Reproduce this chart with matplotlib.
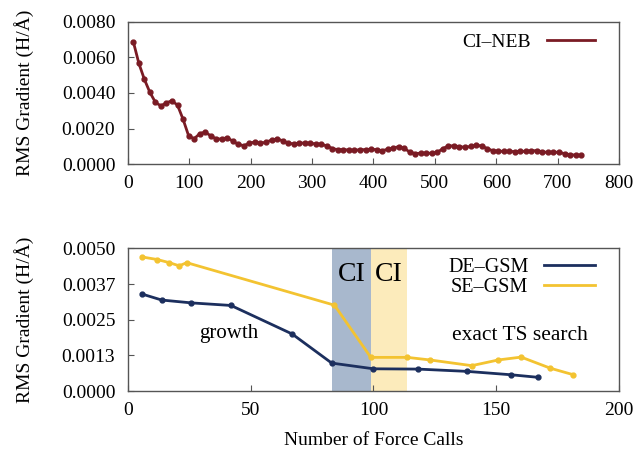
import matplotlib
matplotlib.use("Agg")
import matplotlib.pyplot as plt

plt.rcParams['font.family'] = ['Liberation Serif', 'DejaVu Serif']
plt.rcParams['font.size'] = 14

# ---- data: top panel (CI-NEB) ----
neb_calls = [9, 18, 27, 36, 45, 54, 63, 72, 81, 90, 99, 108, 117, 126, 135, 144,
             153, 162, 171, 180, 189, 198, 207, 216, 225, 234, 243, 252, 261, 270,
             279, 288, 297, 306, 315, 324, 333, 342, 351, 360, 369, 378, 387, 396,
             405, 414, 423, 432, 441, 450, 459, 468, 477, 486, 495, 504, 513, 522,
             531, 540, 549, 558, 567, 576, 585, 594, 603, 612, 621, 630, 639, 648,
             657, 666, 675, 684, 693, 702, 711, 720, 729, 738]
neb_rms = [0.00687, 0.00566, 0.00476, 0.00403, 0.00347, 0.00327, 0.00345, 0.00356,
           0.00331, 0.00252, 0.00160, 0.00143, 0.00171, 0.00181, 0.00159, 0.00142,
           0.00142, 0.00149, 0.00129, 0.00112, 0.00104, 0.00118, 0.00125, 0.00119,
           0.00123, 0.00136, 0.00142, 0.00132, 0.00119, 0.00114, 0.00119, 0.00119,
           0.00118, 0.00114, 0.00112, 0.00103, 0.00088, 0.00082, 0.00082, 0.00080,
           0.00078, 0.00082, 0.00082, 0.00084, 0.00082, 0.00076, 0.00084, 0.00091,
           0.00099, 0.00090, 0.00068, 0.00060, 0.00062, 0.00062, 0.00062, 0.00067,
           0.00088, 0.00103, 0.00103, 0.00099, 0.00095, 0.00100, 0.00106, 0.00103,
           0.00088, 0.00076, 0.00074, 0.00072, 0.00072, 0.00071, 0.00073, 0.00072,
           0.00076, 0.00076, 0.00070, 0.00066, 0.00069, 0.00066, 0.00060, 0.00053,
           0.00052, 0.00050]

# ---- data: bottom panel (GSM) ----
de_calls = [5.8, 13.8, 25.9, 42.0, 66.9, 83.0, 100.0, 118.0, 138.0, 156.1, 167.1]
de_rms = [0.00340, 0.00319, 0.00309, 0.00300, 0.00200, 0.00098, 0.00078, 0.00077,
          0.00069, 0.00057, 0.00048]
se_calls = [5.8, 12.0, 16.9, 20.9, 24.0, 84.1, 98.9, 113.8, 123.0, 140.0, 150.8,
            160.1, 172.0, 181.0]
se_rms = [0.00470, 0.00461, 0.00450, 0.00439, 0.00450, 0.00301, 0.00118, 0.00118,
          0.00109, 0.00089, 0.00109, 0.00119, 0.00080, 0.00058]
ci_de_span = [83.0, 98.9]
ci_se_span = [98.9, 113.8]
bottom_yticks = [0.0, 0.00125, 0.0025, 0.00375, 0.005]
bottom_ylabels = ["0.0000", "0.0013", "0.0025", "0.0037", "0.0050"]

c_neb = "#7a1b24"
c_de = "#1c2f5e"
c_se = "#f3c331"
c_shade_de = "#a8b8cd"
c_shade_se = "#fcebbb"
spine_c = "#555555"

fig = plt.figure(figsize=(6.39, 4.5), dpi=100)
ax1 = fig.add_axes([0.2, 0.635, 0.769, 0.317])
ax2 = fig.add_axes([0.2, 0.131, 0.769, 0.317])

for ax in (ax1, ax2):
    for s in ax.spines.values():
        s.set_color(spine_c)
        s.set_linewidth(1.0)
    ax.tick_params(direction='in', top=False, right=False, length=4,
                   color=spine_c, labelsize=14)
    ax.tick_params(axis='y', pad=9)
    ax.tick_params(axis='x', pad=8)

# top
ax1.plot(neb_calls, neb_rms, color=c_neb, lw=2, marker='o', ms=3.5,
         label="CI\u2013NEB")
ax1.set_xlim(0, 800)
ax1.set_ylim(0, 0.008)
ax1.set_yticks([0, 0.002, 0.004, 0.006, 0.008])
ax1.set_yticklabels(["0.0000", "0.0020", "0.0040", "0.0060", "0.0080"])
ax1.set_xticks([0, 100, 200, 300, 400, 500, 600, 700, 800])
ax1.set_ylabel("RMS Gradient (H/\u00c5)", fontsize=14, labelpad=20)
leg = ax1.legend(loc='upper right', frameon=False, markerfirst=False,
                 handlelength=2.5, fontsize=14,
                 bbox_to_anchor=(0.975, 1.0), borderaxespad=0.2)
for h in leg.legend_handles:
    h.set_marker('')

# bottom
ax2.axvspan(ci_de_span[0], ci_de_span[1], color=c_shade_de, lw=0, zorder=0)
ax2.axvspan(ci_se_span[0], ci_se_span[1], color=c_shade_se, lw=0, zorder=0)
ax2.plot(de_calls, de_rms, color=c_de, lw=2, marker='o', ms=3.5, label="DE\u2013GSM")
ax2.plot(se_calls, se_rms, color=c_se, lw=2, marker='o', ms=3.5, label="SE\u2013GSM")
ax2.set_xlim(0, 200)
ax2.set_ylim(0, 0.005)
ax2.set_yticks(bottom_yticks)
ax2.set_yticklabels(bottom_ylabels)
ax2.set_xticks([0, 50, 100, 150, 200])
ax2.set_ylabel("RMS Gradient (H/\u00c5)", fontsize=14, labelpad=20)
ax2.set_xlabel("Number of Force Calls", fontsize=14, labelpad=9)
leg2 = ax2.legend(loc='upper right', frameon=False, markerfirst=False,
                  handlelength=2.5, fontsize=14.5, labelspacing=0.05,
                  bbox_to_anchor=(0.975, 1.02), borderaxespad=0.2)
for h in leg2.legend_handles:
    h.set_marker('')

ax2.text(sum(ci_de_span) / 2, 0.0041, "CI", ha='center', va='center', fontsize=20)
ax2.text(sum(ci_se_span) / 2, 0.0041, "CI", ha='center', va='center', fontsize=20)
ax2.text(41.2, 0.00203, "growth", ha='center', va='center', fontsize=15)
ax2.text(159.7, 0.00196, "exact TS search", ha='center', va='center', fontsize=15.5)

fig.savefig("out.png", dpi=100)
